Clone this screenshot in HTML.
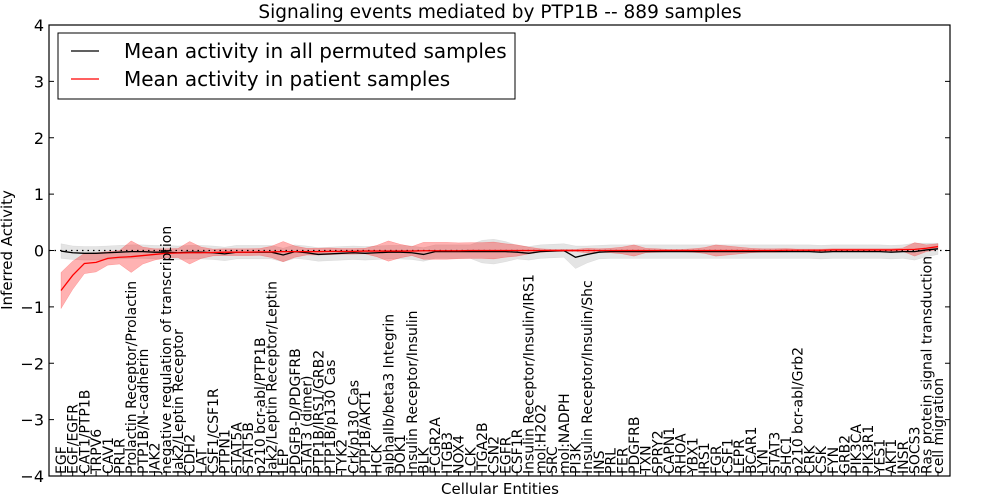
<!DOCTYPE html>
<html><head><meta charset="utf-8"><style>
body{margin:0;background:#fff}
svg{display:block;font-family:"DejaVu Sans","Liberation Sans",sans-serif}
</style></head><body>
<svg id="chart" width="1000" height="500" viewBox="0 0 1000 500">
<rect width="1000" height="500" fill="#fff"/>
<text x="500" y="18" text-anchor="middle" font-size="18.5">Signaling events mediated by PTP1B -- 889 samples</text>
<g id="plot"></g>
<rect x="49" y="25" width="901" height="451" fill="none" stroke="#000" stroke-width="1.2"/>
<text transform="translate(12,250) rotate(-90)" text-anchor="middle" font-size="15">Inferred Activity</text>
<text x="500" y="494" text-anchor="middle" font-size="15">Cellular Entities</text>
<g>
<rect x="58" y="33" width="457" height="66" fill="#fff" stroke="#000" stroke-width="1"/>
<line x1="71" y1="51" x2="99" y2="51" stroke="#000" stroke-width="1.2"/>
<text x="124" y="58" font-size="20">Mean activity in all permuted samples</text>
<line x1="71" y1="79" x2="99" y2="79" stroke="#f00" stroke-width="1.2"/>
<text x="124" y="86" font-size="20">Mean activity in patient samples</text>
</g>
</svg>
<script>
const categories=["EGF","EGF/EGFR","CAT1/PTP1B","TRPV6","CAV1","PRLR","Prolactin Receptor/Prolactin","PTP1B/N-cadherin","JAK2","negative regulation of transcription","Jak2/Leptin Receptor","CDH2","LAT","CSF1/CSF1R","PTPN1","STAT5A","STAT5B","p210 bcr-abl/PTP1B","Jak2/Leptin Receptor/Leptin","LEP","PDGFB-D/PDGFRB","STAT3 (dimer)","PTP1B/IRS1/GRB2","PTP1B/p130 Cas","TYK2","Crk/p130 Cas","PTP1B/AKT1","HCK","alphaIIb/beta3 Integrin","DOK1","Insulin Receptor/Insulin","BLK","FCGR2A","ITGB3","NOX4","LCK","ITGA2B","CSN2","EGFR","CSF1R","Insulin Receptor/Insulin/IRS1","mol:H2O2","SRC","mol:NADPH","PI3K","Insulin Receptor/Insulin/Shc","INS","PRL","FER","PDGFRB","TXN","SPRY2","CAPN1","RHOA","YBX1","IRS1","FGR","CSF1","LEPR","BCAR1","LYN","STAT3","SHC1","p210 bcr-abl/Grb2","CRK","CSK","FYN","GRB2","PIK3CA","PIK3R1","YES1","AKT1","INSR","SOCS3","Ras protein signal transduction","cell migration"];
const patientMean=[-0.71,-0.44,-0.23,-0.21,-0.14,-0.12,-0.11,-0.09,-0.07,-0.05,
-0.045,-0.04,-0.04,-0.035,-0.03,-0.03,-0.03,-0.025,-0.025,-0.02,
-0.02,-0.02,-0.02,-0.015,-0.015,-0.015,-0.01,-0.01,-0.01,-0.01,
-0.01,-0.005,-0.005,-0.005,-0.005,0,0,0,0,0,
0,0,0,0,0,0,0,0,0,0,
0,0,0,0,0,0,0,0,0,0,
0,0,0.005,0.005,0.005,0.005,0.01,0.01,0.01,0.01,
0.01,0.01,0.015,0.02,0.04,0.07];
const patientSd=[0.32,0.25,0.18,0.17,0.12,0.12,0.28,0.15,0.1,0.08,
0.08,0.2,0.1,0.06,0.06,0.06,0.06,0.06,0.1,0.18,
0.1,0.06,0.06,0.06,0.05,0.05,0.05,0.1,0.18,0.12,
0.08,0.15,0.15,0.15,0.14,0.14,0.14,0.15,0.12,0.1,
0.06,0.03,0.02,0.02,0.02,0.04,0.03,0.04,0.06,0.1,
0.04,0.03,0.02,0.02,0.03,0.05,0.1,0.08,0.06,0.04,
0.03,0.03,0.03,0.02,0.02,0.02,0.02,0.02,0.02,0.02,
0.02,0.02,0.03,0.12,0.06,0.05];
const permMean=[-0.01,-0.04,-0.05,-0.05,-0.04,-0.03,-0.02,-0.02,-0.03,-0.03,
-0.04,-0.03,-0.03,-0.04,-0.06,-0.03,-0.03,-0.03,-0.03,-0.08,
-0.02,-0.04,-0.07,-0.06,-0.05,-0.04,-0.05,-0.04,-0.03,-0.03,
-0.04,-0.07,-0.02,-0.02,-0.02,-0.02,-0.02,-0.02,-0.02,-0.03,
-0.05,-0.02,-0.01,0,-0.12,-0.07,-0.03,-0.02,-0.02,-0.02,
-0.02,-0.02,-0.02,-0.02,-0.02,-0.02,-0.02,-0.02,-0.02,-0.02,
-0.02,-0.02,-0.02,-0.02,-0.02,-0.03,-0.02,-0.02,-0.02,-0.02,
-0.02,-0.03,-0.02,-0.02,0.01,0.03];
const permSd=[0.13,0.12,0.12,0.12,0.12,0.12,0.12,0.12,0.12,0.12,
0.12,0.12,0.12,0.12,0.12,0.12,0.12,0.12,0.12,0.12,
0.12,0.12,0.12,0.12,0.12,0.12,0.12,0.12,0.12,0.12,
0.12,0.12,0.12,0.12,0.12,0.12,0.2,0.22,0.18,0.12,
0.12,0.12,0.12,0.12,0.2,0.15,0.12,0.12,0.12,0.12,
0.12,0.12,0.12,0.12,0.12,0.12,0.12,0.12,0.12,0.12,
0.12,0.12,0.12,0.12,0.12,0.12,0.12,0.12,0.12,0.12,
0.12,0.12,0.12,0.15,0.12,0.1];
const yTicks=[4,3,2,1,0,-1,-2,-3,-4];

const NS="http://www.w3.org/2000/svg";
const plot=document.getElementById('plot');
const X=i=>61+i*(877/(categories.length-1));
const Y=v=>250.5-v*56.375;
function mk(tag,attrs){const e=document.createElementNS(NS,tag);for(const k in attrs)e.setAttribute(k,attrs[k]);plot.appendChild(e);return e;}
function band(mean,sd,fill,op,name){
  let d='';
  mean.forEach((m,i)=>{d+=(i?'L':'M')+X(i)+','+Y(m+sd[i]);});
  for(let i=mean.length-1;i>=0;i--)d+='L'+X(i)+','+Y(mean[i]-sd[i]);
  const p=mk('path',{d:d+'Z',fill:fill,'fill-opacity':op,stroke:fill,'stroke-opacity':op,'stroke-width':0.5});
  
  
}
function line(mean,color,name){
  const p=mk('polyline',{points:mean.map((m,i)=>X(i)+','+Y(m)).join(' '),fill:'none',stroke:color,'stroke-width':1.3});
  
  
}
band(permMean,permSd,'#bbbbbb',0.4,'permuted-band');
band(patientMean,patientSd,'#f00',0.3,'patient-band');
const z=mk('line',{x1:49,x2:950,y1:Y(0),y2:Y(0),stroke:'#000','stroke-dasharray':'1.5,4','stroke-width':1.2});


line(permMean,'#000','permuted-mean-line');
line(patientMean,'#f00','patient-mean-line');
yTicks.forEach(v=>{
  const t=mk('line',{x1:49,x2:54,y1:Y(v),y2:Y(v),stroke:'#000'});
  
  
  const t2=mk('line',{x1:945,x2:950,y1:Y(v),y2:Y(v),stroke:'#000'});
  
  
  const l=mk('text',{x:44,y:Y(v)+6,'text-anchor':'end','font-size':16});
  l.textContent=v<0?'\u2212'+(-v):String(v);
  
  
});
categories.forEach((c,i)=>{
  const t=mk('line',{x1:X(i),x2:X(i),y1:476,y2:471,stroke:'#000'});
  
  
  const l=mk('text',{transform:'translate('+(X(i)+5)+',474) rotate(-90)','font-size':14});
  l.textContent=c;
  
  
});
</script>
</body></html>
